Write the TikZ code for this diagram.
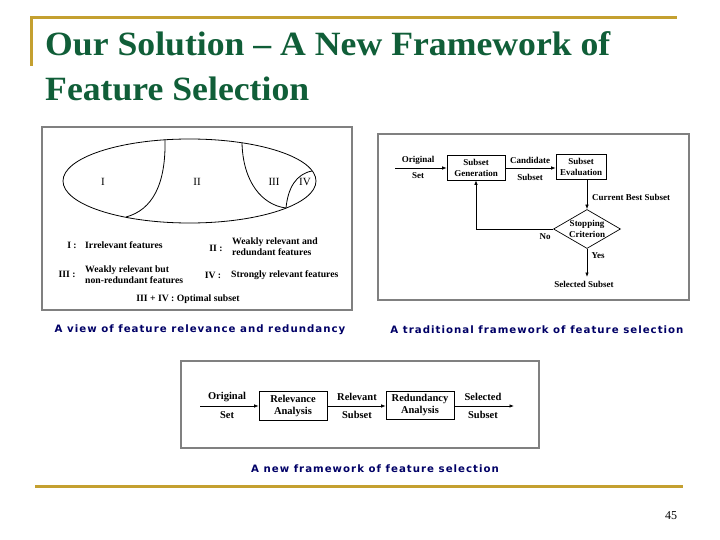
\documentclass[tikz,border=0pt]{standalone}
\usepackage{fontspec}
\setmainfont{Liberation Serif}
\newfontfamily\titlefont[FakeStretch=1.05]{Liberation Serif}
\newfontfamily\capfont[LetterSpace=10]{DejaVu Sans}
\usetikzlibrary{arrows.meta,shapes.geometric}
\definecolor{titlegreen}{RGB}{16,94,56}
\definecolor{rulegold}{RGB}{196,160,48}
\definecolor{capblue}{RGB}{0,0,102}
\definecolor{framegray}{RGB}{128,128,128}
\tikzset{
  panel/.style={draw=framegray, line width=1.6pt},
  fbox/.style={draw, line width=0.7pt, align=center, inner sep=1pt},
  lblA/.style={font=\bfseries\fontsize{9}{11}\selectfont, align=center, inner sep=0pt},
  lblB/.style={font=\bfseries\fontsize{10.5}{12}\selectfont, align=center, inner sep=0pt},
  legend/.style={font=\bfseries\fontsize{9.7}{11}\selectfont, align=left, inner sep=0pt},
  region/.style={font=\fontsize{11}{12}\selectfont, inner sep=0pt},
  caption/.style={font=\capfont\bfseries\fontsize{10.2}{12}\selectfont, text=capblue, inner sep=0pt},
  flow/.style={-{Latex[length=4.5pt,width=3.5pt]}, line width=0.7pt}
}
\begin{document}
\begin{tikzpicture}[x=1pt, y=-1pt]
\useasboundingbox (0,0) rectangle (720,540);
% title and rules
\draw[rulegold, line width=3pt] (30,18) -- (677,18);
\draw[rulegold, line width=3pt] (31,17) -- (31,66);
\node[anchor=base west, text=titlegreen, font=\titlefont\bfseries\fontsize{34}{45}\selectfont, inner sep=0pt] (title) at (45,56) {Our Solution – A New Framework of};
\node[anchor=base west, text=titlegreen, font=\titlefont\bfseries\fontsize{34}{45}\selectfont, inner sep=0pt] (title2) at (45,101) {Feature Selection};
\draw[rulegold, line width=3pt] (35,486) -- (683,486);
\node[font=\fontsize{12}{14}\selectfont, inner sep=0pt] (pagenum) at (671,516) {45};

% panel 1: view of relevance
\draw[panel] (42,127) rectangle (352,310);
\draw[line width=0.8pt] (189.5,181) ellipse [x radius=126.5pt, y radius=42pt];
\draw[line width=0.8pt] (165,139.5) .. controls (166,185) and (152,210) .. (126,217);
\draw[line width=0.8pt] (242,143) .. controls (243,182) and (262,205) .. (286,208);
\draw[line width=0.8pt] (286,208) .. controls (288,188) and (296,174) .. (312,171);
\node[region] (r1) at (103,182) {I};
\node[region] (r2) at (197,182) {II};
\node[region] (r3) at (274,182) {III};
\node[region] (r4) at (305,182) {IV};
\node[legend] (k1) at (72,245) {I :};
\node[legend, anchor=west] (d1) at (85,245) {Irrelevant features};
\node[legend] (k2) at (216,248) {II :};
\node[legend, anchor=west] (d2) at (232,247) {Weakly relevant and\\redundant features};
\node[legend] (k3) at (67,274) {III :};
\node[legend, anchor=west] (d3) at (85,275) {Weakly relevant but\\non-redundant features};
\node[legend] (k4) at (213,275) {IV :};
\node[legend, anchor=west] (d4) at (231,275) {Strongly relevant features};
\node[legend] (k5) at (188,299) {III + IV : Optimal subset};
\node[caption] (cap1) at (200,330) {A view of feature relevance and redundancy};

% panel 2: traditional framework
\draw[panel] (378,134) rectangle (689,300);
\coordinate (in2) at (395,168);
\node[fbox, lblA, minimum width=58pt, minimum height=25pt] (gen) at (476,167.5) {Subset\\Generation};
\node[fbox, lblA, minimum width=50pt, minimum height=25pt] (eval) at (581,166.5) {Subset\\Evaluation};
\node[diamond, draw, line width=0.7pt, lblA, aspect=1.75, inner sep=-3pt, minimum width=67pt, minimum height=39pt] (stop) at (587,229) {Stopping\\Criterion};
\coordinate (out2) at (587,277);
\node[lblA] (sel) at (584,284) {Selected Subset};
\draw[flow] (in2) -- (gen.west |- in2);
\draw[flow] (gen.east |- in2) -- (eval.west |- in2);
\draw[flow] (stop.north |- eval.south) -- (stop.north);
\draw[flow] (stop.west) -| (gen.south);
\draw[flow] (stop.south) -- (out2);
\node[lblA] (orig2) at (418,160) {Original};
\node[lblA] (set2) at (418,176) {Set};
\node[lblA] (cand) at (530,160) {Candidate};
\node[lblA] (cand2) at (530,177) {Subset};
\node[lblA, anchor=west] (best) at (592,197) {Current Best Subset};
\node[lblA] (no) at (545,237) {No};
\node[lblA] (yes) at (598,256) {Yes};
\node[caption] (cap2) at (537,330) {A traditional framework of feature selection};

% panel 3: new framework
\draw[panel] (181,361) rectangle (539,448);
\coordinate (in3) at (200,406);
\node[fbox, lblB, minimum width=68pt, minimum height=29pt] (rel) at (293,405.5) {Relevance\\Analysis};
\node[fbox, lblB, minimum width=68pt, minimum height=28pt] (red) at (420,405) {Redundancy\\Analysis};
\coordinate (out3) at (514,406);
\draw[flow] (in3) -- (rel.west |- in3);
\draw[flow] (rel.east |- in3) -- (red.west |- in3);
\draw[flow] (red.east |- in3) -- (out3);
\node[lblB] (orig3) at (227,397) {Original};
\node[lblB] (set3) at (227,415) {Set};
\node[lblB] (rs1) at (357,397) {Relevant};
\node[lblB] (rs2) at (357,415) {Subset};
\node[lblB] (ss1) at (483,397) {Selected};
\node[lblB] (ss2) at (483,415) {Subset};
\node[caption] (cap3) at (375,469) {A new framework of feature selection};
\end{tikzpicture}
\end{document}
